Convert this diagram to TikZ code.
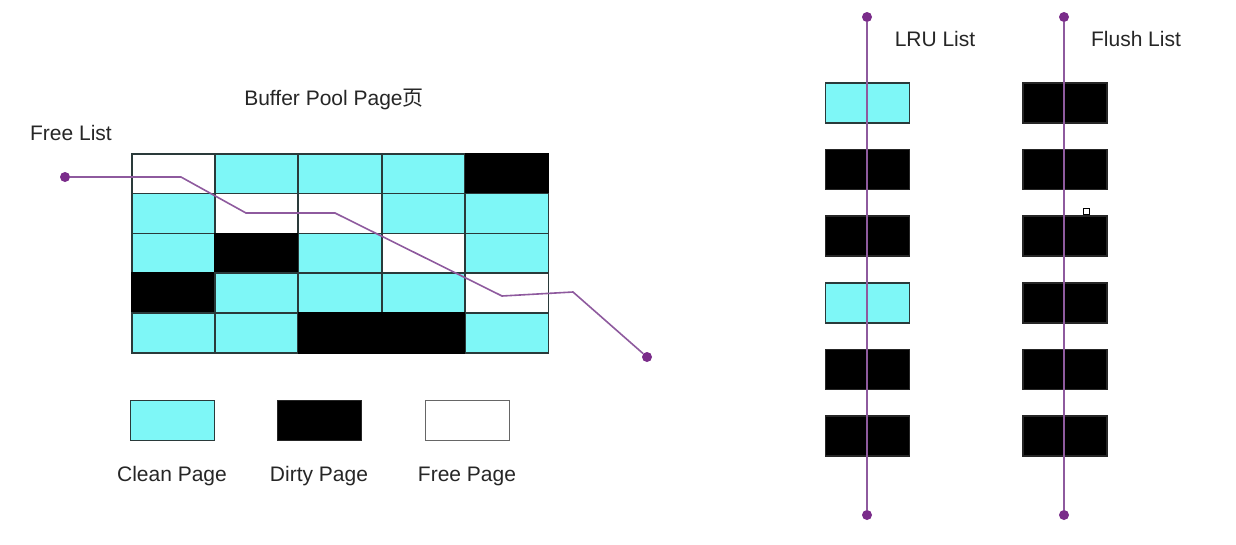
\documentclass[tikz,border=0pt]{standalone}
\usepackage{fontspec}
\setmainfont{Liberation Sans}
\newfontfamily\cjk{Noto Sans CJK SC}
\definecolor{cleanc}{HTML}{7EF7F7}
\definecolor{edgec}{HTML}{2A3A3A}
\definecolor{dotc}{HTML}{7A2C8A}
\definecolor{linec}{HTML}{8E5A9E}
\begin{document}
\begin{tikzpicture}[x=1pt,y=-1pt,
  cell/.style={draw=edgec,line width=1.5pt,minimum width=83pt,minimum height=40pt,inner sep=0pt,anchor=north west},
  clean/.style={cell,fill=cleanc},
  dirty/.style={cell,fill=black,draw=black},
  free/.style={cell,fill=white},
  lbox/.style={draw=edgec,line width=1.5pt,minimum width=84pt,minimum height=40pt,inner sep=0pt},
  lclean/.style={lbox,fill=cleanc},
  ldirty/.style={lbox,fill=black,draw=black!85},
  lfree/.style={lbox,fill=white,draw=black!60},
  dot/.style={circle,fill=dotc,inner sep=0pt,minimum size=10pt},
  plink/.style={draw=linec,line width=1.6pt},
  lab/.style={font=\fontsize{21}{25}\selectfont,text=black!85,inner sep=0pt}
]
\useasboundingbox (0,0) rectangle (1236,544);
\fill[white] (0,0) rectangle (1236,544);

% grid
\foreach \r/\row in {0/{free,clean,clean,clean,dirty},1/{clean,free,free,clean,clean},2/{clean,dirty,clean,free,clean},3/{dirty,clean,clean,clean,free},4/{clean,clean,dirty,dirty,clean}}{
  \foreach \t [count=\c from 0] in \row {
    \node[\t] (g\r\c) at ({131+83.4*\c},{153+39.8*\r}) {};
  }
}

% labels
\node[lab] (title) at (334,99) {Buffer Pool Page{\cjk 页}};
\node[lab] (fl) at (71,133) {Free List};

% free list
\node[dot] (fs) at (65,177) {};
\node[dot] (fe) at (647,357) {};
\coordinate (f1) at (181,177);
\coordinate (f2) at (246,213);
\coordinate (f3) at (335,213);
\coordinate (f4) at (502,296);
\coordinate (f5) at (573,292);
\draw[plink] (fs) -- (f1) -- (f2) -- (f3) -- (f4) -- (f5) -- (fe);

% legend
\node[lclean] (lc) at (172.5,420.5) {};
\node[ldirty] (ld) at (319.5,420.5) {};
\node[lfree] (lf) at (467.5,420.5) {};
\node[lab] at (172,476) {Clean Page};
\node[lab] at (319,476) {Dirty Page};
\node[lab] at (467,476) {Free Page};

% LRU list
\foreach \t [count=\i] in {lclean,ldirty,ldirty,lclean,ldirty,ldirty}{
  \node[\t] (lru\i) at (867.5,{103+66.6*(\i-1)}) {};
}
\foreach \i in {1,...,6}{
  \node[ldirty] (fls\i) at (1065,{103+66.6*(\i-1)}) {};
}
\node[dot] (lt) at (867,17) {};
\node[dot] (lb) at (867,515) {};
\node[dot] (ft) at (1064,17) {};
\node[dot] (fb) at (1064,515) {};
\draw[plink] (lt) -- (lb);
\draw[plink] (ft) -- (fb);
\node[lab] (lrul) at (935,39) {LRU List};
\node[lab] (flul) at (1136,39) {Flush List};

\node[draw=black,fill=white,line width=0.8pt,minimum size=6pt,inner sep=0pt] (mark) at (1086,211) {};
\end{tikzpicture}
\end{document}
